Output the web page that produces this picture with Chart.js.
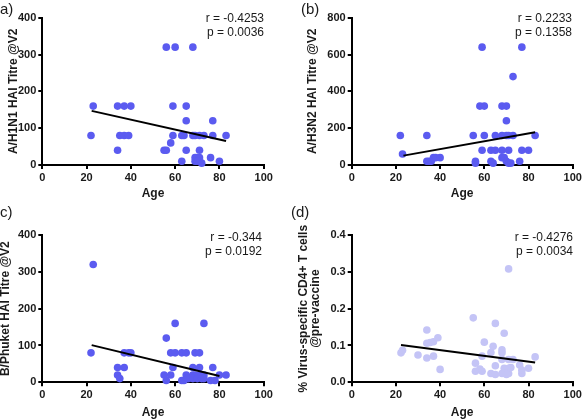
<!DOCTYPE html>
<html>
<head>
<meta charset="utf-8">
<script src="https://cdn.jsdelivr.net/npm/chart.js@4.4.1/dist/chart.umd.min.js"></script>
<style>
  body { margin: 0; background: #fff; }
  #wrap { position: relative; width: 585px; height: 420px; overflow: hidden; font-family: "Liberation Sans", Arial, sans-serif; color: #1a1a1a; }
  canvas { position: absolute; }
  .lbl { position: absolute; font-size: 15px; line-height: 16px; }
  .stat { position: absolute; font-size: 12px; line-height: 14px; text-align: right; width: 90px; }
</style>
</head>
<body>
<div id="wrap">
  <canvas id="chartA" width="290" height="205" style="left:0;top:0"></canvas>
  <canvas id="chartB" width="295" height="205" style="left:290px;top:0"></canvas>
  <canvas id="chartC" width="290" height="215" style="left:0;top:205px"></canvas>
  <canvas id="chartD" width="295" height="215" style="left:290px;top:205px"></canvas>

  <div class="lbl" style="left:0;top:1px">a)</div>
  <div class="lbl" style="left:301px;top:1px">(b)</div>
  <div class="lbl" style="left:0;top:204px">c)</div>
  <div class="lbl" style="left:291px;top:204px">(d)</div>

  <div class="stat" style="left:174px;top:11px">r = -0.4253<br>p = 0.0036</div>
  <div class="stat" style="left:482px;top:11px">r = 0.2233<br>p = 0.1358</div>
  <div class="stat" style="left:172px;top:230px">r = -0.344<br>p = 0.0192</div>
  <div class="stat" style="left:483px;top:230px">r = -0.4276<br>p = 0.0034</div>
</div>
<script>
// (a) A/H1N1
const ageA = [22, 23, 34, 37, 40, 34, 35, 37, 39, 56, 60, 68, 59, 65, 65, 77, 59, 63, 64, 68, 69, 71, 73, 77, 83, 58, 55, 56, 65, 71, 63, 69, 70, 71, 69, 70, 72, 76, 80];
const titreA = [80, 160, 160, 160, 160, 40, 80, 80, 80, 320, 320, 320, 160, 160, 120, 120, 80, 80, 80, 80, 80, 80, 80, 80, 80, 60, 40, 40, 40, 40, 10, 20, 20, 20, 10, 10, 5, 20, 10];
const fitAgeA = [22.3, 83];
const fitA = [147, 65];

// (b) A/H3N2
const ageB = [22, 23, 34, 34, 35, 36, 37, 38, 40, 55, 56, 56, 58, 60, 59, 59, 60, 63, 65, 65, 63, 64, 68, 70, 68, 68, 70, 70, 71, 71, 68, 69, 70, 71, 72, 73, 73, 76, 77, 77, 80, 83];
const titreB = [160, 60, 160, 20, 20, 20, 40, 40, 40, 160, 20, 10, 320, 320, 640, 80, 160, 80, 80, 160, 20, 10, 320, 320, 160, 80, 240, 160, 80, 160, 40, 40, 20, 10, 10, 160, 480, 20, 640, 80, 80, 160];
const fitAgeB = [23.4, 83];
const fitB = [51, 178];

// (c) B/Phuket
const ageC = [23, 22, 37, 39, 40, 34, 37, 34, 35, 56, 60, 73, 58, 60, 63, 65, 69, 71, 59, 68, 71, 77, 55, 58, 65, 68, 69, 71, 73, 80, 83, 56, 63, 64, 66, 68, 70, 72, 73, 76, 78];
const titreC = [320, 80, 80, 80, 80, 40, 40, 20, 10, 120, 160, 160, 80, 80, 80, 80, 80, 80, 40, 40, 40, 40, 20, 20, 20, 20, 20, 20, 20, 20, 20, 5, 5, 5, 10, 10, 10, 10, 10, 5, 5];
const fitAgeC = [22.3, 80];
const fitC = [101, 17];

// (d) CD4+ T cells
const ageD = [22.3, 23, 30, 34, 34, 34, 35.5, 37, 37, 39, 40, 55, 56, 56, 58, 59, 59, 60, 63, 63, 64, 65, 65, 65, 68, 68, 68, 68, 69, 69, 70, 71, 71, 71, 71, 72, 73, 76, 77, 77, 80, 83];
const cellsD = [0.080, 0.087, 0.074, 0.142, 0.106, 0.066, 0.108, 0.110, 0.071, 0.121, 0.035, 0.175, 0.052, 0.030, 0.036, 0.071, 0.030, 0.109, 0.024, 0.081, 0.098, 0.160, 0.045, 0.021, 0.088, 0.080, 0.062, 0.024, 0.133, 0.038, 0.021, 0.308, 0.062, 0.038, 0.024, 0.040, 0.062, 0.047, 0.024, 0.033, 0.038, 0.069];
const fitAgeD = [22.3, 83];
const fitD = [0.101, 0.054];

const tickFont = { family: "'Liberation Sans', Arial, sans-serif", size: 11, weight: 'bold' };
const titleFont = { family: "'Liberation Sans', Arial, sans-serif", size: 12, weight: 'bold' };

function pairs(xs, ys) {
    return xs.map((x, i) => ({ x: x, y: ys[i] }));
}

function makePanel(id, p) {
    return new Chart(document.getElementById(id), {
        type: 'scatter',
        data: {
            datasets: [
                {
                    data: pairs(p.fitX, p.fitY),
                    showLine: true,
                    borderColor: '#000',
                    borderWidth: 2,
                    pointRadius: 0,
                    order: 0,
                    clip: false,
                },
                {
                    data: pairs(p.x, p.y),
                    backgroundColor: p.color,
                    borderWidth: 0,
                    pointRadius: 3.8,
                    order: 1,
                    clip: false,
                },
            ],
        },
        options: {
            responsive: false,
            animation: false,
            events: [],
            layout: { padding: { top: p.top, right: p.right, left: 0, bottom: 0 } },
            plugins: { legend: { display: false }, tooltip: { enabled: false } },
            scales: {
                x: {
                    min: 0,
                    max: 100,
                    ticks: { stepSize: 20, font: tickFont, color: '#1a1a1a', padding: 2, maxRotation: 0 },
                    grid: { drawOnChartArea: false, color: '#000', lineWidth: 2, tickLength: 4 },
                    border: { color: '#000', width: 2 },
                    title: { display: true, text: 'Age', font: titleFont, color: '#1a1a1a', padding: { top: 0, bottom: p.xPad } },
                    afterFit: (s) => { s.height = p.xHeight; },
                },
                y: {
                    min: 0,
                    max: p.yMax,
                    ticks: {
                        stepSize: p.yStep,
                        font: tickFont,
                        color: '#1a1a1a',
                        padding: 2,
                        callback: (v) => p.fmt ? v.toFixed(1) : v,
                    },
                    grid: { drawOnChartArea: false, color: '#000', lineWidth: 2, tickLength: 4 },
                    border: { color: '#000', width: 2 },
                    title: {
                        display: true,
                        text: p.yTitle,
                        font: { family: titleFont.family, size: 12, weight: 'bold', lineHeight: 1 },
                        color: '#1a1a1a',
                        padding: { top: p.yPad, bottom: 0 },
                    },
                    afterFit: (s) => { s.width = p.yWidth; },
                },
            },
        },
    });
}

var chartA = makePanel('chartA', {
    x: ageA, y: titreA, fitX: fitAgeA, fitY: fitA, color: '#5b5bf0',
    yMax: 400, yStep: 100, yTitle: 'A/H1N1 HAI Titre @V2',
    top: 17.7, right: 26.3, yWidth: 42.3, xHeight: 40, yPad: 8, xPad: 4,
});
var chartB = makePanel('chartB', {
    x: ageB, y: titreB, fitX: fitAgeB, fitY: fitB, color: '#5b5bf0',
    yMax: 800, yStep: 200, yTitle: 'A/H3N2 HAI Titre @V2',
    top: 17.7, right: 12.3, yWidth: 61.7, xHeight: 40, yPad: 17, xPad: 4,
});
var chartC = makePanel('chartC', {
    x: ageC, y: titreC, fitX: fitAgeC, fitY: fitC, color: '#5b5bf0',
    yMax: 400, yStep: 100, yTitle: 'B/Phuket HAI Titre @V2',
    top: 30, right: 26.3, yWidth: 42.3, xHeight: 37.7, yPad: 0, xPad: 0.5,
});
var chartD = makePanel('chartD', {
    x: ageD, y: cellsD, fitX: fitAgeD, fitY: fitD, color: '#c4c4f6',
    yMax: 0.4, yStep: 0.1, fmt: true, yTitle: ['% Virus-specific CD4+ T cells', '@pre-vaccine'],
    top: 30, right: 12.3, yWidth: 61.7, xHeight: 37.7, yPad: 7.3, xPad: 0.5,
});
</script>
</body>
</html>
